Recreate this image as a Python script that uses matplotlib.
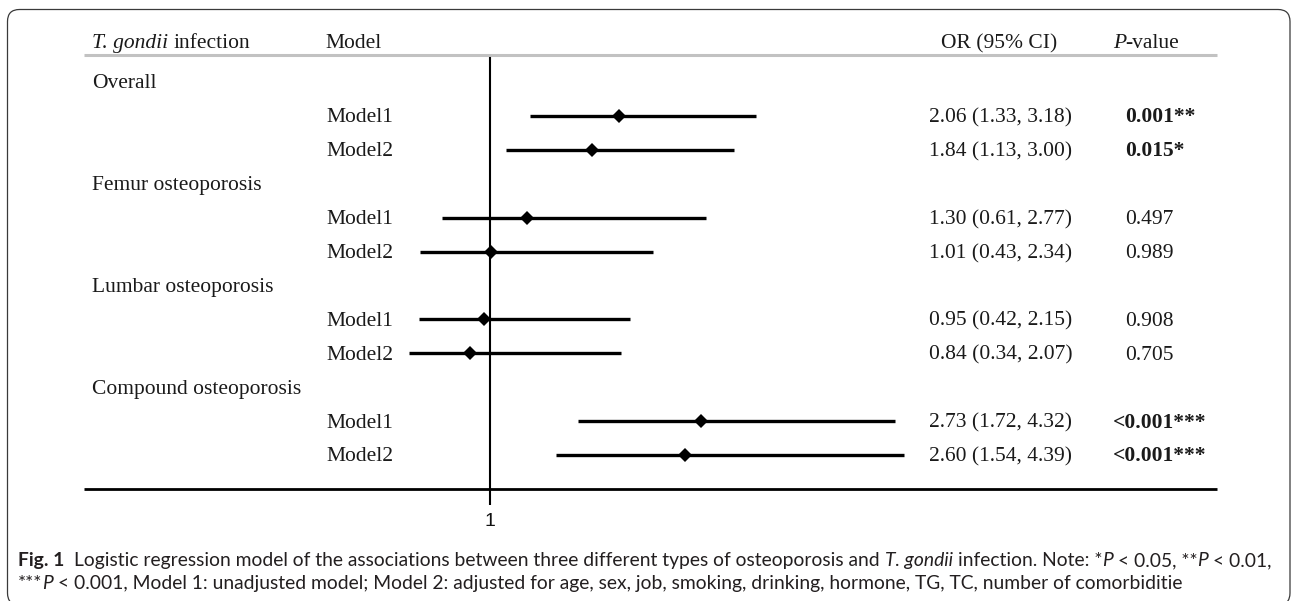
import matplotlib
matplotlib.use("Agg")
import matplotlib.pyplot as plt
from matplotlib.patches import FancyBboxPatch

# ---------------- data ----------------
groups = ["Overall", "Femur osteoporosis", "Lumbar osteoporosis", "Compound osteoporosis"]
models = ["Model1", "Model2"]
or_vals = [2.06, 1.84, 1.30, 1.01, 0.95, 0.84, 2.73, 2.60]
ci_low = [1.33, 1.13, 0.61, 0.43, 0.42, 0.34, 1.72, 1.54]
ci_high = [3.18, 3.00, 2.77, 2.34, 2.15, 2.07, 4.32, 4.39]
p_labels = ["0.001**", "0.015*", "0.497", "0.989", "0.908", "0.705", "<0.001***", "<0.001***"]
p_bold = [True, True, False, False, False, False, True, True]
x_ticks = [1]
x_tick_labels = ["1"]

# ---------------- layout ----------------
W, H = 1293, 601
fig = plt.figure(figsize=(W / 100, H / 100), dpi=100)
bg = fig.add_axes([0, 0, 1, 1])
bg.set_xlim(0, W)
bg.set_ylim(H, 0)
bg.axis("off")
renderer = fig.canvas.get_renderer()

SERIF = dict(family="Liberation Serif", size=15.5, color="#1a1a1a")


def text_w(s, **kw):
    t = bg.text(0, 0, s, **kw)
    w = t.get_window_extent(renderer).width
    t.remove()
    return w


def adv(s, **kw):
    return text_w("x" + s + "x", **kw) - text_w("xx", **kw)


def draw_segments(x, y, segs, base, draw=True):
    for s, over in segs:
        kw = dict(base)
        kw.update(over)
        lead = len(s) - len(s.lstrip(" "))
        stripped = s.strip(" ")
        if stripped and draw:
            xo = adv(" " * lead, **kw) if lead else 0
            bg.text(x + xo, y, stripped, ha="left", va="baseline", **kw)
        x += adv(s, **kw)
    return x


# rounded frame (display pixel coordinates, y upwards)
frame = FancyBboxPatch((7.5, -4), 1282.5, H - 9.5 + 4, boxstyle="round,pad=0,rounding_size=12",
                       transform=None, facecolor="none", edgecolor="#3a3a3a",
                       lw=0.9, clip_on=False)
fig.patches.append(frame)

# table geometry
x_group = 92
x_model = 326
x_or = 929
x_or_head = 941
x_p = 1125
line_l, line_r = 84, 1217
y_head_line = 55
y_bottom_line = 489
row0, row_step = 82, 33.9
base_off = 6.5

# header row
draw_segments(x_group, 48, [("T. gondii", {"style": "italic"}), (" infection", {})], SERIF)
bg.text(x_model - 1, 48, "Model", ha="left", va="baseline", **SERIF)
bg.text(x_or_head, 48, "OR (95% CI)", ha="left", va="baseline", **SERIF)
lt_w = adv("<", **dict(SERIF, weight="bold"))
draw_segments(x_p - lt_w, 48, [("P", {"style": "italic"}), ("-value", {})], SERIF)

bg.plot([line_l, line_r], [y_head_line, y_head_line], color="#c2c2c2", lw=2.2,
        solid_capstyle="butt")
bg.plot([line_l, line_r], [y_bottom_line, y_bottom_line], color="black", lw=2.0,
        solid_capstyle="butt")

# rows
model_rows = []
k = 0
r = 0
for g in groups:
    ypx = row0 + row_step * r
    bg.text(x_group, ypx + base_off, g, ha="left", va="baseline", **SERIF)
    r += 1
    for m in models:
        ypx = row0 + row_step * r
        bg.text(x_model, ypx + base_off, m, ha="left", va="baseline", **SERIF)
        txt = f"{or_vals[k]:.2f} ({ci_low[k]:.2f}, {ci_high[k]:.2f})"
        bg.text(x_or, ypx + base_off, txt, ha="left", va="baseline", **SERIF)
        pk = dict(SERIF)
        if p_bold[k]:
            pk["weight"] = "bold"
        xp = x_p - (adv("<", **pk) if p_labels[k].startswith("<") else 0)
        bg.text(xp, ypx + base_off, p_labels[k], ha="left", va="baseline", **pk)
        model_rows.append(r)
        r += 1
        k += 1

# forest axes: OR=1 at x pixel 490, 122 px per OR unit
px_one, px_per = 490, 122
or_min, or_max = 0.0, 5.0
left_px = px_one + (or_min - 1) * px_per
right_px = px_one + (or_max - 1) * px_per
ax = fig.add_axes([left_px / W, 1 - y_bottom_line / H, (right_px - left_px) / W,
                   (y_bottom_line - y_head_line) / H])
ax.patch.set_alpha(0)
ax.set_xlim(or_min, or_max)
ax.set_ylim((y_bottom_line - row0) / row_step, (y_head_line - row0) / row_step)
for sp in ax.spines.values():
    sp.set_visible(False)
ax.set_yticks([])
ax.set_xticks(x_ticks)
ax.set_xticklabels(x_tick_labels, fontfamily="Liberation Sans", fontsize=14, color="#111")
ax.tick_params(axis="x", length=11.5, width=1.5, pad=6, color="black")

ax.axvline(1, ymin=0, ymax=1 - 3 / (y_bottom_line - y_head_line), color="black", lw=1.5)
ax.hlines(model_rows, ci_low, ci_high, color="black", lw=2.4)
ax.plot(or_vals, model_rows, "D", color="black", ms=7, mew=0, zorder=3)

# caption
CAP = dict(family="Lato", color="#231f20")
line1 = [("Fig. 1", {"weight": "bold"}),
         ("  Logistic regression model of the associations between three different types of osteoporosis and ", {}),
         ("T. gondii", {"style": "italic"}), (" infection. Note: *", {}), ("P", {"style": "italic"}),
         (" < 0.05, **", {}), ("P", {"style": "italic"}), (" < 0.01,", {})]
line2 = [("***", {}), ("P", {"style": "italic"}),
         (" < 0.001, Model 1: unadjusted model; Model 2: adjusted for age, sex, job, smoking, drinking, hormone, TG, TC, number of comorbiditie", {})]
trial = dict(CAP, size=10)
w1 = draw_segments(0, 0, line1, trial, draw=False)
cap_size = 10 * 1258 / w1
capk = dict(CAP, size=cap_size)
draw_segments(18, 566, line1, capk)
draw_segments(18, 589, line2, capk)

fig.savefig("out.png", dpi=100)
